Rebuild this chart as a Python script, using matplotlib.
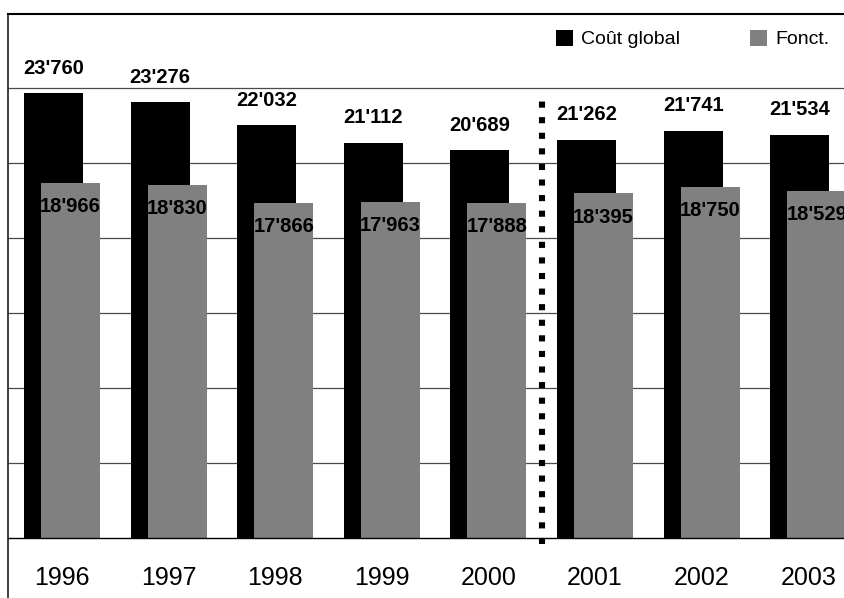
import matplotlib
matplotlib.use("Agg")
from matplotlib import pyplot as plt
from matplotlib import font_manager
import numpy as np

years = ["1996", "1997", "1998", "1999", "2000", "2001", "2002", "2003"]
cout_global = [23760, 23276, 22032, 21112, 20689, 21262, 21741, 21534]
fonct = [18966, 18830, 17866, 17963, 17888, 18395, 18750, 18529]
gridlines = [4000, 8000, 12000, 16000, 20000, 24000]


def fmt(v: int) -> str:
    # swiss-style thousands separator
    return f"{v:,}".replace(",", "'")


names = {f.name for f in font_manager.fontManager.ttflist}
label_font = "Liberation Sans Narrow" if "Liberation Sans Narrow" in names else "Liberation Sans"

fig = plt.figure(figsize=(8.45, 5.98), dpi=100)
ax = fig.add_axes([8 / 845, 0, 1 - 8 / 845, (598 - 14) / 598])

x = np.arange(len(years))
width = 0.553
shift = 0.08

black_bars = ax.bar(x - shift, cout_global, width, color="black", label="Coût global", zorder=2)
gray_bars = ax.bar(x + shift, fonct, width, color="#808080", label="Fonct.", zorder=3)

for g in gridlines:
    ax.axhline(g, color="#4a4a4a", linewidth=0.9, zorder=1)
ax.axhline(0, color="black", linewidth=1.0, zorder=4)

# break between the two periods
ax.plot([4.5, 4.5], [-330, 23750], color="black", linewidth=4.4,
        linestyle=(0, (1.0, 1.55)), dash_capstyle="butt", zorder=5)

for xi, v in zip(x, cout_global):
    ax.annotate(fmt(v), (xi - shift, v), xytext=(0, 11), textcoords="offset points",
                ha="center", va="bottom", fontsize=14.5, fontweight="bold",
                family=label_font, zorder=6)
for xi, v in zip(x, fonct):
    ax.annotate(fmt(v), (xi + shift, v), xytext=(0, -17), textcoords="offset points",
                ha="center", va="center", fontsize=14.5, fontweight="bold",
                family=label_font, zorder=6)
for xi, y in zip(x, years):
    ax.text(xi, -2140, y, ha="center", va="center", fontsize=18,
            family="Liberation Sans")

ax.set_xlim(-0.507, 7.345)
ax.set_ylim(-3203, 27975)
ax.set_xticks([])
ax.set_yticks([])
ax.spines["right"].set_visible(False)
ax.spines["bottom"].set_visible(False)
ax.spines["top"].set_linewidth(1.5)
ax.spines["left"].set_linewidth(1.3)
ax.spines["left"].set_color("#333333")

fig.legend(handles=[black_bars, gray_bars], loc="upper left",
           bbox_to_anchor=(556 / 845, 1 - 30 / 598), ncol=2, frameon=False,
           prop={"family": "Liberation Sans", "size": 14},
           handlelength=0.85, handleheight=0.85, handletextpad=0.45,
           columnspacing=3.6, borderpad=0, borderaxespad=0)

fig.savefig("out.png", dpi=100)
